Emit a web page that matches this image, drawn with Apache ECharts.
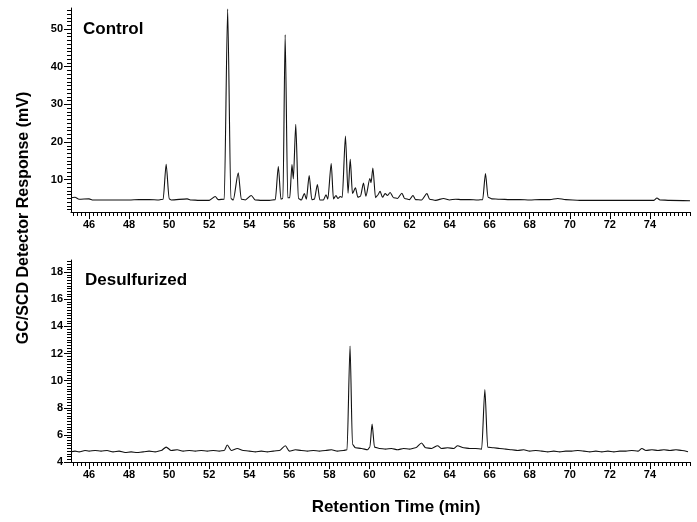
<!DOCTYPE html>
<html>
<head>
<meta charset="utf-8">
<script src="https://cdn.jsdelivr.net/npm/echarts@6/dist/echarts.min.js"></script>
<style>html,body{margin:0;padding:0;background:#fff}#c{width:697px;height:522px}</style>
</head>
<body>
<div id="c"></div>
<script>
// ---- Data ----
const xTickLabels = [46, 48, 50, 52, 54, 56, 58, 60, 62, 64, 66, 68, 70, 72, 74];
const controlYLabels = [10, 20, 30, 40, 50];
const desulfYLabels = [4, 6, 8, 10, 12, 14, 16, 18];

// Control trace: retention time (min) and response (mV)
const controlTime = [
  45.1, 45.3, 45.5, 46.0, 46.2, 47.0, 48.0, 48.5, 49.0, 49.5, 49.7, 49.85, 50.0, 50.1,
  50.9, 51.1, 51.5, 52.0, 52.3, 52.45, 52.75, 52.92, 53.08, 53.2, 53.45, 53.6, 53.8,
  54.1, 54.3, 54.6, 55.0, 55.3, 55.45, 55.58, 55.68, 55.79, 55.92, 56.02, 56.13, 56.2,
  56.32, 56.45, 56.6, 56.75, 56.85, 56.99, 57.12, 57.25, 57.40, 57.52, 57.7, 57.83,
  57.92, 58.09, 58.2, 58.33, 58.42, 58.54, 58.64, 58.80, 58.93, 59.04, 59.15, 59.3,
  59.42, 59.55, 59.70, 59.82, 60.02, 60.08, 60.17, 60.3, 60.4, 60.53, 60.65, 60.78,
  60.9, 61.03, 61.2, 61.4, 61.62, 61.75, 62.0, 62.17, 62.3, 62.6, 62.87, 63.0, 63.3,
  63.7, 64.0, 64.3, 64.6, 65.0, 65.4, 65.65, 65.79, 65.92, 66.1, 66.5, 67.0, 67.5,
  68.0, 68.5, 69.0, 69.4, 69.8, 70.5, 71.5, 72.5, 73.5, 74.2, 74.35, 74.5, 75.0, 76.0
];
const controlResp = [
  5.2, 5.3, 4.8, 4.9, 4.6, 4.6, 4.6, 4.7, 4.7, 4.6, 4.8, 14.1, 4.9, 4.6,
  4.9, 4.6, 4.5, 4.5, 5.5, 4.7, 4.8, 55.3, 5.0, 4.6, 11.8, 4.8, 4.6,
  5.8, 4.6, 4.5, 4.5, 4.7, 13.5, 4.8, 5.0, 48.5, 5.2, 5.2, 14.0, 10.2,
  24.7, 5.0, 4.6, 6.3, 4.8, 11.1, 4.7, 4.8, 8.7, 4.6, 4.6, 6.0,
  4.8, 14.3, 4.9, 5.8, 5.0, 5.5, 5.3, 21.6, 6.4, 15.4, 6.3, 7.8,
  5.3, 5.6, 9.1, 5.6, 10.3, 9.2, 13.1, 5.2, 5.8, 6.9, 5.3, 6.3,
  5.8, 6.6, 5.2, 5.0, 6.4, 5.0, 4.7, 5.8, 4.7, 4.6, 6.3, 4.8, 4.5,
  5.0, 4.6, 4.8, 4.7, 4.7, 4.6, 4.7, 11.6, 5.3, 4.9, 4.8, 4.7, 4.7,
  4.6, 4.7, 4.7, 5.0, 4.7, 4.5, 4.5, 4.5, 4.5, 4.5, 5.1, 4.6, 4.5, 4.4
];

// Desulfurized trace
const desulfTime = [
  45.1, 45.3, 45.5, 45.8, 46.0, 46.3, 46.6, 46.9, 47.2, 47.5, 47.8, 48.1, 48.4, 48.7,
  49.0, 49.3, 49.6, 49.85, 50.1, 50.4, 50.7, 51.0, 51.3, 51.6, 51.9, 52.2, 52.5, 52.75,
  52.9, 53.1, 53.4, 53.7, 54.0, 54.3, 54.6, 54.9, 55.2, 55.5, 55.8, 56.0, 56.3, 56.6,
  56.9, 57.2, 57.5, 57.8, 58.1, 58.4, 58.7, 58.88, 59.03, 59.15, 59.3, 59.6, 59.9, 60.02,
  60.13, 60.25, 60.5, 60.8, 61.1, 61.4, 61.7, 62.0, 62.3, 62.6, 62.8, 63.1, 63.4, 63.6,
  63.9, 64.2, 64.4, 64.7, 65.0, 65.3, 65.6, 65.76, 65.9, 66.2, 66.5, 66.8, 67.1, 67.4,
  67.7, 68.0, 68.3, 68.6, 68.9, 69.2, 69.5, 69.8, 70.1, 70.4, 70.7, 71.0, 71.3, 71.6,
  71.9, 72.2, 72.5, 72.8, 73.1, 73.4, 73.6, 73.8, 74.1, 74.4, 74.7, 75.0, 75.3, 75.6, 75.9
];
const desulfResp = [
  4.75, 4.8, 4.75, 4.85, 4.8, 4.85, 4.8, 4.85, 4.75, 4.8, 4.7, 4.75, 4.7, 4.75,
  4.8, 4.75, 4.85, 5.1, 4.85, 4.9, 4.8, 4.85, 4.8, 4.85, 4.8, 4.85, 4.8, 4.85,
  5.25, 4.85, 5.0, 4.85, 4.8, 4.75, 4.8, 4.75, 4.8, 4.85, 5.2, 4.8, 4.9, 4.85,
  4.8, 4.85, 4.8, 4.85, 4.9, 4.8, 4.85, 4.9, 12.55, 5.3, 5.05, 5.0, 4.9, 5.1,
  6.8, 5.1, 5.0, 4.95, 5.0, 4.9, 5.0, 4.95, 5.05, 5.4, 5.05, 5.0, 5.2, 5.0,
  5.05, 5.0, 5.2, 5.05, 5.0, 5.0, 4.95, 9.35, 5.1, 5.05, 5.0, 4.95, 4.9, 4.85,
  4.9, 4.8, 4.85, 4.8, 4.75, 4.8, 4.75, 4.8, 4.8, 4.85, 4.8, 4.75, 4.8, 4.75,
  4.8, 4.75, 4.8, 4.8, 4.85, 4.8, 5.0, 4.85, 4.9, 4.85, 4.9, 4.85, 4.9, 4.85, 4.75
];

// ---- Chart ----
const FONT = '"Liberation Sans", Arial, sans-serif';
const pairs = (xs, ys) => xs.map((x, i) => [x, ys[i]]);
function steps(a, b, s) { const out = []; for (let v = a; v <= b + 1e-9; v += s) out.push(+v.toFixed(2)); return out; }

const X_MIN = 45.1, X_MAX = 76;
const TOP_MIN = 1.4, TOP_MAX = 55.6;
const BOT_MIN = 4, BOT_MAX = 18.9;

const axisLineStyle = { color: '#000', width: 1 };
const labelStyle = { color: '#000', fontSize: 11, fontWeight: 'bold', fontFamily: FONT };

function xAxes(gridIndex) {
  return [
    {
      type: 'value', gridIndex, min: X_MIN, max: X_MAX,
      axisLine: { show: true, lineStyle: axisLineStyle },
      axisTick: { show: true, length: 4, lineStyle: axisLineStyle, customValues: steps(45.2, 76, 0.2) },
      axisLabel: Object.assign({ show: true, margin: 7, customValues: xTickLabels }, labelStyle),
      splitLine: { show: false }
    },
    {
      type: 'value', gridIndex, min: X_MIN, max: X_MAX,
      position: 'bottom',
      axisLine: { show: false },
      axisTick: { show: true, length: 7, lineStyle: axisLineStyle, customValues: xTickLabels },
      axisLabel: { show: false },
      splitLine: { show: false }
    }
  ];
}
function yAxes(gridIndex, min, max, minorVals, labels) {
  return [
    {
      type: 'value', gridIndex, min, max,
      axisLine: { show: true, lineStyle: axisLineStyle },
      axisTick: { show: true, length: 4, lineStyle: axisLineStyle, customValues: minorVals },
      axisLabel: Object.assign({ show: true, margin: 8, customValues: labels }, labelStyle),
      splitLine: { show: false }
    },
    {
      type: 'value', gridIndex, min, max, position: 'left',
      axisLine: { show: false },
      axisTick: { show: true, length: 7, lineStyle: axisLineStyle, customValues: labels },
      axisLabel: { show: false },
      splitLine: { show: false }
    }
  ];
}

const chart = echarts.init(document.getElementById('c'), null, { renderer: 'canvas' });
chart.setOption({
  animation: false,
  backgroundColor: '#fff',
  grid: [
    { left: 71, right: 7, top: 8, height: 204 },
    { left: 71, right: 7, top: 260, height: 202 }
  ],
  xAxis: [].concat(xAxes(0), xAxes(1)),
  yAxis: [].concat(
    yAxes(0, TOP_MIN, TOP_MAX, steps(2, 55, 1), controlYLabels),
    yAxes(1, BOT_MIN, BOT_MAX, steps(4.2, 18.8, 0.2), desulfYLabels)
  ),
  series: [
    {
      type: 'line', xAxisIndex: 0, yAxisIndex: 0, data: pairs(controlTime, controlResp),
      showSymbol: false, smooth: 0.25, smoothMonotone: 'x',
      lineStyle: { color: '#111', width: 1.1 }
    },
    {
      type: 'line', xAxisIndex: 2, yAxisIndex: 2, data: pairs(desulfTime, desulfResp),
      showSymbol: false, smooth: 0.25, smoothMonotone: 'x',
      lineStyle: { color: '#111', width: 1.1 }
    }
  ],
  graphic: [
    { type: 'text', left: 83, top: 21, style: { text: 'Control', font: 'bold 17px ' + FONT, fill: '#000' } },
    { type: 'text', left: 85, top: 272, style: { text: 'Desulfurized', font: 'bold 17px ' + FONT, fill: '#000' } },
    { type: 'text', x: 24, y: 218, rotation: Math.PI / 2,
      style: { text: 'GC/SCD Detector Response (mV)', font: 'bold 16px ' + FONT, fill: '#000', align: 'center', verticalAlign: 'middle' } },
    { type: 'text', x: 396, y: 507,
      style: { text: 'Retention Time (min)', font: 'bold 17px ' + FONT, fill: '#000', align: 'center', verticalAlign: 'middle' } }
  ]
});
</script>
</body>
</html>
